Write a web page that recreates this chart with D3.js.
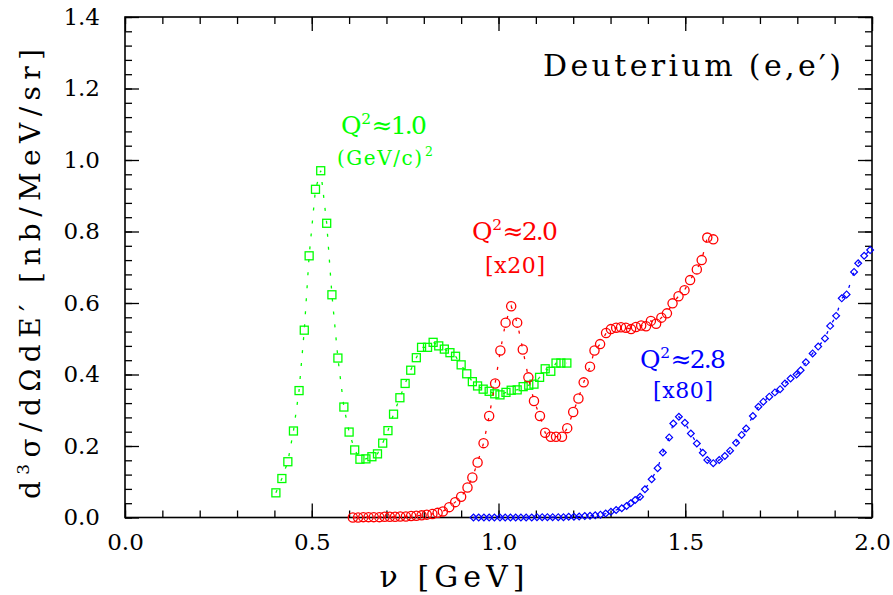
<!DOCTYPE html>
<html><head><meta charset="utf-8">
<script src="https://cdn.jsdelivr.net/npm/d3@7"></script>
<style>body{margin:0;background:#fff}svg{display:block}</style>
</head><body><svg id="c" width="893" height="595"></svg>
<script>
// Q^2 ~ 1.0 (GeV/c)^2
const greenNu = [0.404,0.420,0.436,0.451,0.466,0.480,0.493,0.510,0.524,0.540,0.554,0.570,0.586,0.600,0.615,0.629,0.645,0.661,0.676,0.690,0.704,0.719,0.736,0.750,0.765,0.780,0.794,0.810,0.825,0.840,0.855,0.870,0.885,0.900,0.915,0.930,0.944,0.959,0.975,0.990,1.004,1.020,1.034,1.050,1.066,1.081,1.095,1.110,1.125,1.140,1.154,1.167,1.183];
const greenVal = [0.069,0.109,0.156,0.242,0.355,0.524,0.732,0.918,0.970,0.823,0.623,0.446,0.309,0.239,0.189,0.163,0.164,0.170,0.178,0.208,0.243,0.289,0.335,0.375,0.412,0.447,0.476,0.476,0.490,0.480,0.471,0.461,0.451,0.427,0.402,0.380,0.368,0.359,0.353,0.346,0.343,0.350,0.356,0.357,0.366,0.370,0.373,0.392,0.416,0.409,0.432,0.432,0.432];
// Q^2 ~ 2.0 [x20]
const redNu = [0.610,0.624,0.638,0.652,0.666,0.681,0.695,0.709,0.723,0.737,0.752,0.766,0.780,0.794,0.808,0.823,0.837,0.851,0.868,0.884,0.900,0.917,0.930,0.944,0.960,0.975,0.991,1.005,1.019,1.034,1.050,1.065,1.080,1.095,1.111,1.125,1.140,1.154,1.170,1.184,1.200,1.214,1.228,1.245,1.257,1.272,1.288,1.301,1.315,1.328,1.341,1.355,1.368,1.382,1.395,1.408,1.422,1.436,1.451,1.466,1.482,1.498,1.513,1.531,1.544,1.559,1.575];
const redVal = [0.000,0.000,0.001,0.001,0.001,0.001,0.002,0.002,0.002,0.003,0.003,0.004,0.005,0.006,0.008,0.010,0.013,0.017,0.029,0.043,0.058,0.084,0.112,0.154,0.208,0.284,0.375,0.467,0.545,0.591,0.545,0.470,0.392,0.326,0.284,0.237,0.226,0.226,0.226,0.250,0.295,0.333,0.378,0.422,0.467,0.485,0.516,0.527,0.531,0.532,0.531,0.527,0.533,0.537,0.535,0.550,0.542,0.559,0.571,0.599,0.619,0.636,0.664,0.694,0.720,0.783,0.778];
// Q^2 ~ 2.8 [x80]
const blueNu = [0.933,0.947,0.961,0.975,0.989,1.004,1.018,1.032,1.046,1.060,1.074,1.089,1.103,1.117,1.131,1.145,1.160,1.174,1.188,1.202,1.216,1.231,1.245,1.259,1.273,1.287,1.301,1.315,1.330,1.343,1.354,1.366,1.379,1.392,1.410,1.426,1.440,1.457,1.468,1.483,1.499,1.515,1.531,1.547,1.559,1.575,1.591,1.606,1.620,1.636,1.651,1.663,1.681,1.696,1.709,1.725,1.740,1.754,1.767,1.782,1.798,1.809,1.823,1.841,1.856,1.874,1.888,1.904,1.919,1.932,1.952,1.963,1.979,1.995];
const blueVal = [0,0,0,0,0,0,0,0,0,0,0,0,0.001,0.001,0.001,0.001,0.001,0.001,0.002,0.002,0.003,0.004,0.005,0.006,0.008,0.011,0.016,0.021,0.026,0.032,0.040,0.049,0.058,0.079,0.107,0.138,0.182,0.224,0.263,0.282,0.265,0.235,0.207,0.181,0.161,0.152,0.161,0.172,0.187,0.209,0.231,0.249,0.284,0.310,0.324,0.338,0.350,0.359,0.375,0.389,0.400,0.412,0.434,0.459,0.478,0.501,0.536,0.564,0.613,0.624,0.687,0.711,0.732,0.748];

const xMajor = [0, 0.5, 1.0, 1.5, 2.0];
const xMinor = [0,0.1,0.2,0.3,0.4,0.5,0.6,0.7,0.8,0.9,1.0,1.1,1.2,1.3,1.4,1.5,1.6,1.7,1.8,1.9,2.0];
const yMajor = [0,0.2,0.4,0.6,0.8,1.0,1.2,1.4];
const yMinor = [0,0.04,0.08,0.12,0.16,0.2,0.24,0.28,0.32,0.36,0.4,0.44,0.48,0.52,0.56,0.6,0.64,0.68,0.72,0.76,0.8,0.84,0.88,0.92,0.96,1.0,1.04,1.08,1.12,1.16,1.2,1.24,1.28,1.32,1.36,1.4];

const L = 125, R = 872, T = 17, B = 517.5;
const x = d3.scaleLinear().domain([0, 2]).range([L, R]);
const y = d3.scaleLinear().domain([0, 1.4]).range([B, T]);
const svg = d3.select('#c');
const FONT = '"DejaVu Serif", serif';
const GREEN = '#00ff00', RED = '#ff0000', BLUE = '#0000ff';

function axes() {
  const fmt = d3.format('.1f');
  const g = svg.append('g').attr('class', 'axes');
  const style = sel => { sel.select('.domain').remove(); sel.selectAll('line').attr('stroke', '#000').attr('stroke-width', 1.3); sel.selectAll('text').attr('font-family', FONT).attr('font-size', 23).attr('fill', '#000'); };
  g.append('g').attr('transform', `translate(0,${B})`).call(d3.axisBottom(x).tickValues(xMinor).tickSize(-7).tickFormat('')).call(style);
  g.append('g').attr('transform', `translate(0,${B})`).call(d3.axisBottom(x).tickValues(xMajor).tickSize(-14).tickPadding(16).tickFormat(fmt)).call(style);
  g.append('g').attr('transform', `translate(0,${T})`).call(d3.axisTop(x).tickValues(xMinor).tickSize(-7).tickFormat('')).call(style);
  g.append('g').attr('transform', `translate(0,${T})`).call(d3.axisTop(x).tickValues(xMajor).tickSize(-14).tickFormat('')).call(style);
  g.append('g').attr('transform', `translate(${L},0)`).call(d3.axisLeft(y).tickValues(yMinor).tickSize(-7).tickFormat('')).call(style);
  g.append('g').attr('transform', `translate(${L},0)`).call(d3.axisLeft(y).tickValues(yMajor).tickSize(-14).tickPadding(25).tickFormat(fmt)).call(style);
  g.append('g').attr('transform', `translate(${R},0)`).call(d3.axisRight(y).tickValues(yMinor).tickSize(-7).tickFormat('')).call(style);
  g.append('g').attr('transform', `translate(${R},0)`).call(d3.axisRight(y).tickValues(yMajor).tickSize(-14).tickFormat('')).call(style);
  g.append('rect').attr('x', L).attr('y', T).attr('width', R - L).attr('height', B - T)
    .attr('fill', 'none').attr('stroke', '#000').attr('stroke-width', 1.6);
}
axes();

const line = d3.line().x(d => x(d[0])).y(d => y(d[1]));
function series(nu, val, color, shape) {
  const pts = nu.map((n, i) => [n, val[i]]);
  svg.append('path').datum(pts).attr('d', line).attr('fill', 'none')
    .attr('stroke', color).attr('stroke-width', 1.3).attr('stroke-dasharray', '3,10');
  const g = svg.append('g');
  pts.forEach(p => {
    const cx = x(p[0]), cy = y(p[1]);
    if (shape === 'square') {
      g.append('rect').attr('x', cx - 4).attr('y', cy - 4).attr('width', 8).attr('height', 8)
        .attr('fill', 'none').attr('stroke', color).attr('stroke-width', 1.3);
    } else if (shape === 'circle') {
      g.append('circle').attr('cx', cx).attr('cy', cy).attr('r', 4.6)
        .attr('fill', 'none').attr('stroke', color).attr('stroke-width', 1.3);
    } else {
      g.append('rect').attr('x', -2.4).attr('y', -2.4).attr('width', 4.8).attr('height', 4.8)
        .attr('transform', `translate(${cx},${cy}) rotate(45)`)
        .attr('fill', 'none').attr('stroke', color).attr('stroke-width', 1.2);
    }
  });
}
series(greenNu, greenVal, GREEN, 'square');
series(redNu, redVal, RED, 'circle');
series(blueNu, blueVal, BLUE, 'diamond');

function label(xp, yp, parts, size, color, len) {
  const t = svg.append('text').attr('x', xp).attr('y', yp).attr('font-family', FONT)
    .attr('font-size', size).attr('fill', color);
  parts.forEach(p => {
    const s = t.append('tspan').text(p.t);
    if (p.sup) s.attr('font-size', size * 0.62).attr('dy', -size * 0.42).attr('dx', 1.5);
    if (p.down) s.attr('dy', size * 0.42).attr('dx', 2);
  });
  if (len) t.attr('textLength', len).attr('lengthAdjust', 'spacing');
  return t;
}
label(341, 134, [{t: 'Q'}, {t: '2', sup: true}, {t: '≈1.0', down: true}], 25, GREEN, 86);
label(337, 164.5, [{t: '(GeV/c)'}, {t: '2', sup: true}], 20, GREEN, 96);
label(472, 240, [{t: 'Q'}, {t: '2', sup: true}, {t: '≈2.0', down: true}], 25, RED, 86);
label(485, 272.5, [{t: '[x20]'}], 22, RED, 60);
label(640, 368, [{t: 'Q'}, {t: '2', sup: true}, {t: '≈2.8', down: true}], 25, BLUE, 86);
label(653, 398, [{t: '[x80]'}], 22, BLUE, 60);
label(543, 76, [{t: 'Deuterium (e,e′)'}], 30, '#000', 298);

// axis titles
svg.append('text').attr('x', 452).attr('y', 587).attr('text-anchor', 'middle')
  .attr('font-family', FONT).attr('font-size', 30).attr('fill', '#000')
  .attr('textLength', 145).attr('lengthAdjust', 'spacing')
  .text('ν [GeV]');
const yt = svg.append('text').attr('transform', 'translate(40,274) rotate(-90)').attr('text-anchor', 'middle')
  .attr('font-family', FONT).attr('font-size', 28).attr('fill', '#000')
  .attr('textLength', 450).attr('lengthAdjust', 'spacing');
yt.append('tspan').text('d');
yt.append('tspan').text('3').attr('font-size', 17).attr('dy', -11);
yt.append('tspan').text('σ/dΩdE′ [nb/MeV/sr]').attr('dy', 11);
</script>
</body></html>
